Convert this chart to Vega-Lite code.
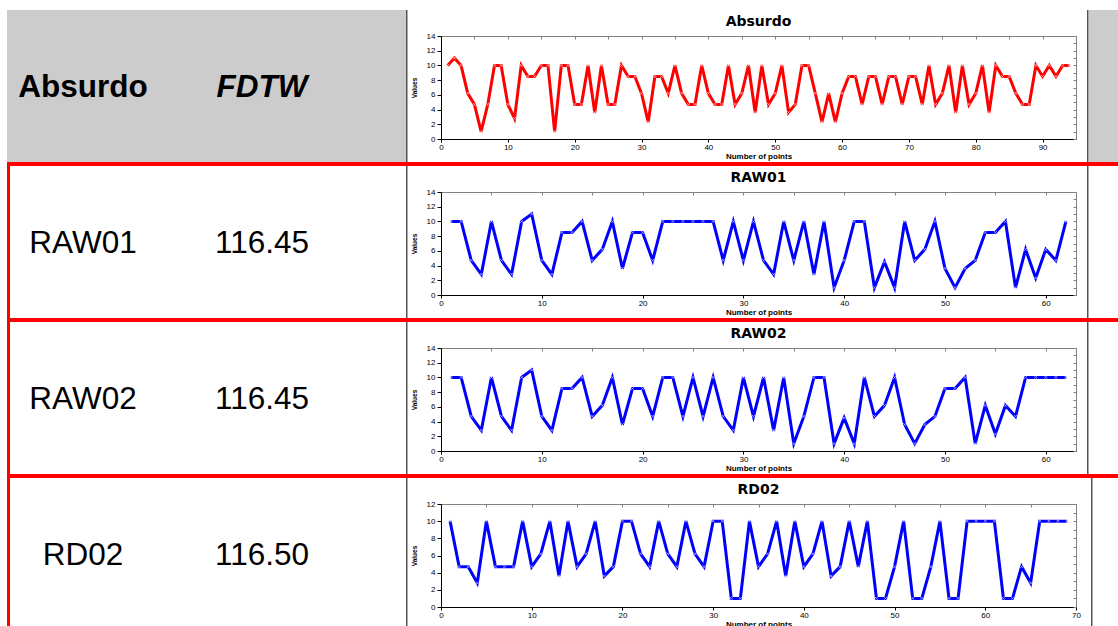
{
  "$schema": "https://vega.github.io/schema/vega-lite/v6.json",
  "padding": {"left": 7, "top": 10, "right": 0, "bottom": 0},
  "background": "white",
  "spacing": 0,
  "config": {
    "view": {"stroke": null},
    "axis": {"grid": false, "labelFont": "Liberation Sans", "labelFontSize": 8, "labelColor": "#000000", "titleFont": "Liberation Sans", "titleFontWeight": "bold", "titleColor": "#000000", "domainColor": "#000000", "tickColor": "#000000", "labelFlush": false, "labelOverlap": false},
    "axisX": {"tickSize": 3, "labelPadding": 1, "titlePadding": 1, "titleFontSize": 8},
    "axisY": {"tickSize": 4, "labelPadding": 2, "titlePadding": 9, "titleFontSize": 6.5}
  },
  "datasets": {
    "none": [],
    "absurdo": [
      {"point":1,"value":10},{"point":2,"value":11},{"point":3,"value":10},{"point":4,"value":6.2},{"point":5,"value":4.7},{"point":6,"value":1},{"point":7,"value":4.7},{"point":8,"value":10},{"point":9,"value":10},{"point":10,"value":4.7},
      {"point":11,"value":2.8},{"point":12,"value":10},{"point":13,"value":8.5},{"point":14,"value":8.5},{"point":15,"value":10},{"point":16,"value":10},{"point":17,"value":1},{"point":18,"value":10},{"point":19,"value":10},{"point":20,"value":4.7},
      {"point":21,"value":4.7},{"point":22,"value":10},{"point":23,"value":3.6},{"point":24,"value":10},{"point":25,"value":4.7},{"point":26,"value":4.7},{"point":27,"value":10},{"point":28,"value":8.5},{"point":29,"value":8.5},{"point":30,"value":6.2},
      {"point":31,"value":2.3},{"point":32,"value":8.5},{"point":33,"value":8.5},{"point":34,"value":6.2},{"point":35,"value":10},{"point":36,"value":6.2},{"point":37,"value":4.7},{"point":38,"value":4.7},{"point":39,"value":10},{"point":40,"value":6.2},
      {"point":41,"value":4.7},{"point":42,"value":4.7},{"point":43,"value":10},{"point":44,"value":4.7},{"point":45,"value":6.2},{"point":46,"value":10},{"point":47,"value":3.6},{"point":48,"value":10},{"point":49,"value":4.7},{"point":50,"value":6.2},
      {"point":51,"value":10},{"point":52,"value":3.6},{"point":53,"value":4.7},{"point":54,"value":10},{"point":55,"value":10},{"point":56,"value":6.2},{"point":57,"value":2.3},{"point":58,"value":6.2},{"point":59,"value":2.3},{"point":60,"value":6.2},
      {"point":61,"value":8.5},{"point":62,"value":8.5},{"point":63,"value":4.7},{"point":64,"value":8.5},{"point":65,"value":8.5},{"point":66,"value":4.7},{"point":67,"value":8.5},{"point":68,"value":8.5},{"point":69,"value":4.7},{"point":70,"value":8.5},
      {"point":71,"value":8.5},{"point":72,"value":4.7},{"point":73,"value":10},{"point":74,"value":4.7},{"point":75,"value":6.2},{"point":76,"value":10},{"point":77,"value":3.6},{"point":78,"value":10},{"point":79,"value":4.7},{"point":80,"value":6.2},
      {"point":81,"value":10},{"point":82,"value":3.6},{"point":83,"value":10},{"point":84,"value":8.5},{"point":85,"value":8.5},{"point":86,"value":6.2},{"point":87,"value":4.7},{"point":88,"value":4.7},{"point":89,"value":10},{"point":90,"value":8.5},
      {"point":91,"value":10},{"point":92,"value":8.5},{"point":93,"value":10},{"point":94,"value":10}
    ],
    "raw01": [
      {"point":1,"value":10},{"point":2,"value":10},{"point":3,"value":4.7},{"point":4,"value":2.8},{"point":5,"value":10},{"point":6,"value":4.7},{"point":7,"value":2.8},{"point":8,"value":10},{"point":9,"value":11},{"point":10,"value":4.7},
      {"point":11,"value":2.8},{"point":12,"value":8.5},{"point":13,"value":8.5},{"point":14,"value":10},{"point":15,"value":4.7},{"point":16,"value":6.2},{"point":17,"value":10},{"point":18,"value":3.6},{"point":19,"value":8.5},{"point":20,"value":8.5},
      {"point":21,"value":4.7},{"point":22,"value":10},{"point":23,"value":10},{"point":24,"value":10},{"point":25,"value":10},{"point":26,"value":10},{"point":27,"value":10},{"point":28,"value":4.7},{"point":29,"value":10},{"point":30,"value":4.7},
      {"point":31,"value":10},{"point":32,"value":4.7},{"point":33,"value":2.8},{"point":34,"value":10},{"point":35,"value":4.7},{"point":36,"value":10},{"point":37,"value":2.8},{"point":38,"value":10},{"point":39,"value":1},{"point":40,"value":4.7},
      {"point":41,"value":10},{"point":42,"value":10},{"point":43,"value":1},{"point":44,"value":4.5},{"point":45,"value":1},{"point":46,"value":10},{"point":47,"value":4.7},{"point":48,"value":6.2},{"point":49,"value":10},{"point":50,"value":3.6},
      {"point":51,"value":1},{"point":52,"value":3.6},{"point":53,"value":4.7},{"point":54,"value":8.5},{"point":55,"value":8.5},{"point":56,"value":10},{"point":57,"value":1},{"point":58,"value":6.2},{"point":59,"value":2.3},{"point":60,"value":6.2},
      {"point":61,"value":4.7},{"point":62,"value":10}
    ],
    "raw02": [
      {"point":1,"value":10},{"point":2,"value":10},{"point":3,"value":4.7},{"point":4,"value":2.8},{"point":5,"value":10},{"point":6,"value":4.7},{"point":7,"value":2.8},{"point":8,"value":10},{"point":9,"value":11},{"point":10,"value":4.7},
      {"point":11,"value":2.8},{"point":12,"value":8.5},{"point":13,"value":8.5},{"point":14,"value":10},{"point":15,"value":4.7},{"point":16,"value":6.2},{"point":17,"value":10},{"point":18,"value":3.6},{"point":19,"value":8.5},{"point":20,"value":8.5},
      {"point":21,"value":4.7},{"point":22,"value":10},{"point":23,"value":10},{"point":24,"value":4.7},{"point":25,"value":10},{"point":26,"value":4.7},{"point":27,"value":10},{"point":28,"value":4.7},{"point":29,"value":2.8},{"point":30,"value":10},
      {"point":31,"value":4.7},{"point":32,"value":10},{"point":33,"value":2.8},{"point":34,"value":10},{"point":35,"value":1},{"point":36,"value":4.7},{"point":37,"value":10},{"point":38,"value":10},{"point":39,"value":1},{"point":40,"value":4.5},
      {"point":41,"value":1},{"point":42,"value":10},{"point":43,"value":4.7},{"point":44,"value":6.2},{"point":45,"value":10},{"point":46,"value":3.6},{"point":47,"value":1},{"point":48,"value":3.6},{"point":49,"value":4.7},{"point":50,"value":8.5},
      {"point":51,"value":8.5},{"point":52,"value":10},{"point":53,"value":1},{"point":54,"value":6.2},{"point":55,"value":2.3},{"point":56,"value":6.2},{"point":57,"value":4.7},{"point":58,"value":10},{"point":59,"value":10},{"point":60,"value":10},
      {"point":61,"value":10},{"point":62,"value":10}
    ],
    "rd02": [
      {"point":1,"value":10},{"point":2,"value":4.7},{"point":3,"value":4.7},{"point":4,"value":2.8},{"point":5,"value":10},{"point":6,"value":4.7},{"point":7,"value":4.7},{"point":8,"value":4.7},{"point":9,"value":10},{"point":10,"value":4.7},
      {"point":11,"value":6.2},{"point":12,"value":10},{"point":13,"value":3.6},{"point":14,"value":10},{"point":15,"value":4.7},{"point":16,"value":6.2},{"point":17,"value":10},{"point":18,"value":3.6},{"point":19,"value":4.7},{"point":20,"value":10},
      {"point":21,"value":10},{"point":22,"value":6.2},{"point":23,"value":4.7},{"point":24,"value":10},{"point":25,"value":6.2},{"point":26,"value":4.7},{"point":27,"value":10},{"point":28,"value":6.2},{"point":29,"value":4.7},{"point":30,"value":10},
      {"point":31,"value":10},{"point":32,"value":1},{"point":33,"value":1},{"point":34,"value":10},{"point":35,"value":4.7},{"point":36,"value":6.2},{"point":37,"value":10},{"point":38,"value":3.6},{"point":39,"value":10},{"point":40,"value":4.7},
      {"point":41,"value":6.2},{"point":42,"value":10},{"point":43,"value":3.6},{"point":44,"value":4.7},{"point":45,"value":10},{"point":46,"value":4.7},{"point":47,"value":10},{"point":48,"value":1},{"point":49,"value":1},{"point":50,"value":4.7},
      {"point":51,"value":10},{"point":52,"value":1},{"point":53,"value":1},{"point":54,"value":4.7},{"point":55,"value":10},{"point":56,"value":1},{"point":57,"value":1},{"point":58,"value":10},{"point":59,"value":10},{"point":60,"value":10},
      {"point":61,"value":10},{"point":62,"value":1},{"point":63,"value":1},{"point":64,"value":4.7},{"point":65,"value":2.8},{"point":66,"value":10},{"point":67,"value":10},{"point":68,"value":10},{"point":69,"value":10}
    ]
  },
  "vconcat": [
    {
      "spacing": 0,
      "hconcat": [
        {
          "width": 399, "height": 152,
          "view": {"fill": "#cccccc", "stroke": null},
          "data": {"values": [{"column": "Absurdo", "text": "Absurdo"}, {"column": "FDTW", "text": "FDTW"}]},
          "encoding": {
            "x": {"field": "column", "type": "nominal", "axis": null, "scale": {"type": "point", "domain": ["Absurdo", "FDTW"], "padding": 0.6145, "align": 0.3455}},
            "text": {"field": "text"}
          },
          "layer": [
            {"transform": [{"filter": "datum.column === 'Absurdo'"}], "mark": {"type": "text", "font": "Liberation Sans", "fontSize": 31.5, "fontWeight": "bold", "color": "#000000", "baseline": "middle", "align": "center", "dy": 2}},
            {"transform": [{"filter": "datum.column === 'FDTW'"}], "mark": {"type": "text", "font": "Liberation Sans", "fontSize": 31.5, "fontWeight": "bold", "fontStyle": "italic", "color": "#000000", "baseline": "middle", "align": "center", "dy": 2}}
          ]
        },
        {"width": 1.5, "height": 152, "view": {"fill": "#555555", "stroke": null}, "data": {"name": "none"}, "mark": "point"},
        {
          "spacing": 0,
          "vconcat": [
            {"width": 1, "height": 1, "data": {"name": "none"}, "mark": "point"},
            {
              "spacing": 0,
              "hconcat": [
                {"width": 2, "height": 103, "data": {"name": "none"}, "mark": "point"},
                {
                  "width": 635, "height": 103,
                  "data": {"name": "absurdo"},
                  "title": {"text": ["", "Absurdo"], "lineHeight": 3, "offset": 3, "font": "DejaVu Sans", "fontSize": 14, "fontWeight": "bold", "color": "#000000"},
                  "view": {"fill": "white", "stroke": "#808080", "strokeWidth": 1},
                  "layer": [
                    {
                      "mark": {"type": "line", "color": "#ff0000", "strokeWidth": 3},
                      "encoding": {
                        "x": {"field": "point", "type": "quantitative", "scale": {"domain": [0, 95]}, "title": "Number of points", "axis": {"orient": "bottom", "values": [0, 10, 20, 30, 40, 50, 60, 70, 80, 90]}},
                        "y": {"field": "value", "type": "quantitative", "scale": {"domain": [0, 14]}, "title": "Values", "axis": {"orient": "left", "values": [0, 2, 4, 6, 8, 10, 12, 14]}}
                      }
                    },
                    {
                      "mark": {"type": "point", "shape": "M-1,-1L1,1M1,-1L-1,1", "filled": false, "color": "#ffb0b0", "size": 8, "strokeWidth": 0.8, "opacity": 1},
                      "encoding": {
                        "x": {"field": "point", "type": "quantitative", "scale": {"domain": [0, 95]}, "title": null, "axis": {"orient": "top", "labels": false, "domain": false, "tickSize": -3, "tickColor": "#808080", "values": [0, 5, 10, 15, 20, 25, 30, 35, 40, 45, 50, 55, 60, 65, 70, 75, 80, 85, 90, 95]}},
                        "y": {"field": "value", "type": "quantitative", "scale": {"domain": [0, 14]}, "title": null, "axis": {"orient": "right", "labels": false, "domain": false, "tickSize": -3, "tickColor": "#808080", "values": [0, 1, 2, 3, 4, 5, 6, 7, 8, 9, 10, 11, 12, 13, 14]}}
                      }
                    }
                  ],
                  "resolve": {"axis": {"x": "independent", "y": "independent"}}
                },
                {"width": 10, "height": 103, "data": {"name": "none"}, "mark": "point"}
              ]
            }
          ]
        },
        {"width": 1.5, "height": 152, "view": {"fill": "#555555", "stroke": null}, "data": {"name": "none"}, "mark": "point"},
        {"width": 31, "height": 152, "view": {"fill": "#cccccc", "stroke": null}, "data": {"name": "none"}, "mark": "point"}
      ]
    },
    {"width": 1111, "height": 4, "view": {"fill": "#ff0000", "stroke": null}, "data": {"name": "none"}, "mark": "point"},
    {
      "spacing": 0,
      "hconcat": [
        {"width": 3, "height": 152, "view": {"fill": "#ff0000", "stroke": null}, "data": {"name": "none"}, "mark": "point"},
        {
          "width": 396, "height": 152,
          "view": {"fill": "white", "stroke": null},
          "data": {"values": [{"column": "Absurdo", "text": "RAW01"}, {"column": "FDTW", "text": "116.45"}]},
          "mark": {"type": "text", "font": "Liberation Sans", "fontSize": 31.5, "color": "#000000", "baseline": "middle", "align": "center", "dy": 2},
          "encoding": {
            "x": {"field": "column", "type": "nominal", "axis": null, "scale": {"type": "point", "domain": ["Absurdo", "FDTW"], "padding": 0.6061, "align": 0.3364}},
            "text": {"field": "text"}
          }
        },
        {"width": 1.5, "height": 152, "view": {"fill": "#555555", "stroke": null}, "data": {"name": "none"}, "mark": "point"},
        {
          "spacing": 0,
          "vconcat": [
            {"width": 1, "height": 1, "data": {"name": "none"}, "mark": "point"},
            {
              "spacing": 0,
              "hconcat": [
                {"width": 2, "height": 103, "data": {"name": "none"}, "mark": "point"},
                {
                  "width": 635, "height": 103,
                  "data": {"name": "raw01"},
                  "title": {"text": ["", "RAW01"], "lineHeight": 3, "offset": 3, "font": "DejaVu Sans", "fontSize": 14, "fontWeight": "bold", "color": "#000000"},
                  "view": {"fill": "white", "stroke": "#808080", "strokeWidth": 1},
                  "layer": [
                    {
                      "mark": {"type": "line", "color": "#0000ff", "strokeWidth": 3},
                      "encoding": {
                        "x": {"field": "point", "type": "quantitative", "scale": {"domain": [0, 63]}, "title": "Number of points", "axis": {"orient": "bottom", "values": [0, 10, 20, 30, 40, 50, 60]}},
                        "y": {"field": "value", "type": "quantitative", "scale": {"domain": [0, 14]}, "title": "Values", "axis": {"orient": "left", "values": [0, 2, 4, 6, 8, 10, 12, 14]}}
                      }
                    },
                    {
                      "mark": {"type": "point", "shape": "M-1,-1L1,1M1,-1L-1,1", "filled": false, "color": "#b0b0ff", "size": 8, "strokeWidth": 0.8, "opacity": 1},
                      "encoding": {
                        "x": {"field": "point", "type": "quantitative", "scale": {"domain": [0, 63]}, "title": null, "axis": {"orient": "top", "labels": false, "domain": false, "tickSize": -3, "tickColor": "#808080", "values": [0, 5, 10, 15, 20, 25, 30, 35, 40, 45, 50, 55, 60]}},
                        "y": {"field": "value", "type": "quantitative", "scale": {"domain": [0, 14]}, "title": null, "axis": {"orient": "right", "labels": false, "domain": false, "tickSize": -3, "tickColor": "#808080", "values": [0, 1, 2, 3, 4, 5, 6, 7, 8, 9, 10, 11, 12, 13, 14]}}
                      }
                    }
                  ],
                  "resolve": {"axis": {"x": "independent", "y": "independent"}}
                },
                {"width": 10, "height": 103, "data": {"name": "none"}, "mark": "point"}
              ]
            }
          ]
        },
        {"width": 1.5, "height": 152, "view": {"fill": "#555555", "stroke": null}, "data": {"name": "none"}, "mark": "point"}
      ]
    },
    {"width": 1111, "height": 4, "view": {"fill": "#ff0000", "stroke": null}, "data": {"name": "none"}, "mark": "point"},
    {
      "spacing": 0,
      "hconcat": [
        {"width": 3, "height": 152, "view": {"fill": "#ff0000", "stroke": null}, "data": {"name": "none"}, "mark": "point"},
        {
          "width": 396, "height": 152,
          "view": {"fill": "white", "stroke": null},
          "data": {"values": [{"column": "Absurdo", "text": "RAW02"}, {"column": "FDTW", "text": "116.45"}]},
          "mark": {"type": "text", "font": "Liberation Sans", "fontSize": 31.5, "color": "#000000", "baseline": "middle", "align": "center", "dy": 2},
          "encoding": {
            "x": {"field": "column", "type": "nominal", "axis": null, "scale": {"type": "point", "domain": ["Absurdo", "FDTW"], "padding": 0.6061, "align": 0.3364}},
            "text": {"field": "text"}
          }
        },
        {"width": 1.5, "height": 152, "view": {"fill": "#555555", "stroke": null}, "data": {"name": "none"}, "mark": "point"},
        {
          "spacing": 0,
          "vconcat": [
            {"width": 1, "height": 1, "data": {"name": "none"}, "mark": "point"},
            {
              "spacing": 0,
              "hconcat": [
                {"width": 2, "height": 103, "data": {"name": "none"}, "mark": "point"},
                {
                  "width": 635, "height": 103,
                  "data": {"name": "raw02"},
                  "title": {"text": ["", "RAW02"], "lineHeight": 3, "offset": 3, "font": "DejaVu Sans", "fontSize": 14, "fontWeight": "bold", "color": "#000000"},
                  "view": {"fill": "white", "stroke": "#808080", "strokeWidth": 1},
                  "layer": [
                    {
                      "mark": {"type": "line", "color": "#0000ff", "strokeWidth": 3},
                      "encoding": {
                        "x": {"field": "point", "type": "quantitative", "scale": {"domain": [0, 63]}, "title": "Number of points", "axis": {"orient": "bottom", "values": [0, 10, 20, 30, 40, 50, 60]}},
                        "y": {"field": "value", "type": "quantitative", "scale": {"domain": [0, 14]}, "title": "Values", "axis": {"orient": "left", "values": [0, 2, 4, 6, 8, 10, 12, 14]}}
                      }
                    },
                    {
                      "mark": {"type": "point", "shape": "M-1,-1L1,1M1,-1L-1,1", "filled": false, "color": "#b0b0ff", "size": 8, "strokeWidth": 0.8, "opacity": 1},
                      "encoding": {
                        "x": {"field": "point", "type": "quantitative", "scale": {"domain": [0, 63]}, "title": null, "axis": {"orient": "top", "labels": false, "domain": false, "tickSize": -3, "tickColor": "#808080", "values": [0, 5, 10, 15, 20, 25, 30, 35, 40, 45, 50, 55, 60]}},
                        "y": {"field": "value", "type": "quantitative", "scale": {"domain": [0, 14]}, "title": null, "axis": {"orient": "right", "labels": false, "domain": false, "tickSize": -3, "tickColor": "#808080", "values": [0, 1, 2, 3, 4, 5, 6, 7, 8, 9, 10, 11, 12, 13, 14]}}
                      }
                    }
                  ],
                  "resolve": {"axis": {"x": "independent", "y": "independent"}}
                },
                {"width": 10, "height": 103, "data": {"name": "none"}, "mark": "point"}
              ]
            }
          ]
        },
        {"width": 1.5, "height": 152, "view": {"fill": "#555555", "stroke": null}, "data": {"name": "none"}, "mark": "point"}
      ]
    },
    {"width": 1111, "height": 4, "view": {"fill": "#ff0000", "stroke": null}, "data": {"name": "none"}, "mark": "point"},
    {
      "spacing": 0,
      "hconcat": [
        {"width": 3, "height": 152, "view": {"fill": "#ff0000", "stroke": null}, "data": {"name": "none"}, "mark": "point"},
        {
          "width": 396, "height": 152,
          "view": {"fill": "white", "stroke": null},
          "data": {"values": [{"column": "Absurdo", "text": "RD02"}, {"column": "FDTW", "text": "116.50"}]},
          "mark": {"type": "text", "font": "Liberation Sans", "fontSize": 31.5, "color": "#000000", "baseline": "middle", "align": "center", "dy": 2},
          "encoding": {
            "x": {"field": "column", "type": "nominal", "axis": null, "scale": {"type": "point", "domain": ["Absurdo", "FDTW"], "padding": 0.6061, "align": 0.3364}},
            "text": {"field": "text"}
          }
        },
        {"width": 1.5, "height": 152, "view": {"fill": "#555555", "stroke": null}, "data": {"name": "none"}, "mark": "point"},
        {
          "spacing": 0,
          "vconcat": [
            {"width": 1, "height": 1, "data": {"name": "none"}, "mark": "point"},
            {
              "spacing": 0,
              "hconcat": [
                {"width": 2, "height": 103, "data": {"name": "none"}, "mark": "point"},
                {
                  "width": 635, "height": 103,
                  "data": {"name": "rd02"},
                  "title": {"text": ["", "RD02"], "lineHeight": 3, "offset": 3, "font": "DejaVu Sans", "fontSize": 14, "fontWeight": "bold", "color": "#000000"},
                  "view": {"fill": "white", "stroke": "#808080", "strokeWidth": 1},
                  "layer": [
                    {
                      "mark": {"type": "line", "color": "#0000ff", "strokeWidth": 3},
                      "encoding": {
                        "x": {"field": "point", "type": "quantitative", "scale": {"domain": [0, 70]}, "title": "Number of points", "axis": {"orient": "bottom", "values": [0, 10, 20, 30, 40, 50, 60, 70]}},
                        "y": {"field": "value", "type": "quantitative", "scale": {"domain": [0, 12]}, "title": "Values", "axis": {"orient": "left", "values": [0, 2, 4, 6, 8, 10, 12]}}
                      }
                    },
                    {
                      "mark": {"type": "point", "shape": "M-1,-1L1,1M1,-1L-1,1", "filled": false, "color": "#b0b0ff", "size": 8, "strokeWidth": 0.8, "opacity": 1},
                      "encoding": {
                        "x": {"field": "point", "type": "quantitative", "scale": {"domain": [0, 70]}, "title": null, "axis": {"orient": "top", "labels": false, "domain": false, "tickSize": -3, "tickColor": "#808080", "values": [0, 5, 10, 15, 20, 25, 30, 35, 40, 45, 50, 55, 60, 65, 70]}},
                        "y": {"field": "value", "type": "quantitative", "scale": {"domain": [0, 12]}, "title": null, "axis": {"orient": "right", "labels": false, "domain": false, "tickSize": -3, "tickColor": "#808080", "values": [0, 1, 2, 3, 4, 5, 6, 7, 8, 9, 10, 11, 12]}}
                      }
                    }
                  ],
                  "resolve": {"axis": {"x": "independent", "y": "independent"}}
                },
                {"width": 10, "height": 103, "data": {"name": "none"}, "mark": "point"}
              ]
            }
          ]
        },
        {"width": 1.5, "height": 152, "view": {"fill": "#555555", "stroke": null}, "data": {"name": "none"}, "mark": "point"}
      ]
    }
  ]
}
